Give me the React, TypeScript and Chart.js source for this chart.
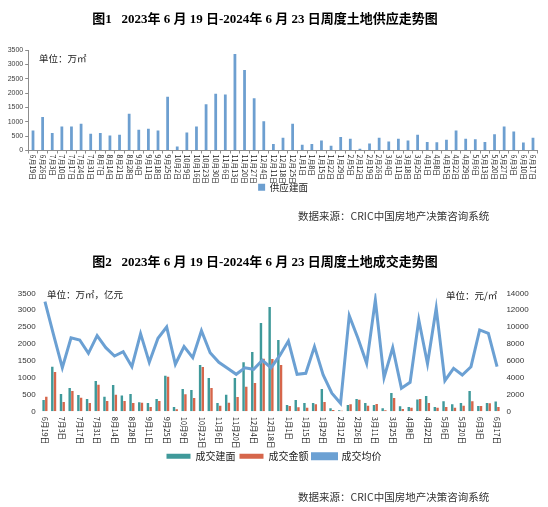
import React, { useEffect, useRef } from 'react';
import { Chart, registerables } from 'chart.js';

Chart.register(...registerables);

const weeks = [
  '6月19日', '6月26日', '7月3日', '7月10日', '7月17日', '7月24日', '7月31日', '8月7日', '8月14日', '8月21日',
  '8月28日', '9月4日', '9月11日', '9月18日', '9月25日', '10月2日', '10月9日', '10月16日', '10月23日', '10月30日',
  '11月6日', '11月13日', '11月20日', '11月27日', '12月4日', '12月11日', '12月18日', '12月25日', '1月1日', '1月8日',
  '1月15日', '1月22日', '1月29日', '2月5日', '2月12日', '2月19日', '2月26日', '3月4日', '3月11日', '3月18日',
  '3月25日', '4月1日', '4月8日', '4月15日', '4月22日', '4月29日', '5月6日', '5月13日', '5月20日', '5月27日',
  '6月3日', '6月10日', '6月17日',
];

// 图1 供应建面（万㎡）
const supplyArea = [
  700, 1170, 610, 840, 840, 930, 580, 610, 525, 550,
  1280, 720, 760, 700, 1870, 140, 630, 840, 1610, 1980,
  1950, 3360, 2800, 1820, 1015, 230, 440, 930, 200, 230,
  350, 165, 470, 410, 60, 245, 440, 315, 410, 350,
  550, 300, 290, 375, 700, 410, 395, 300, 570, 840,
  665, 280, 440,
];

// 图2 成交建面（万㎡）
const dealArea = [
  336, 1325, 514, 692, 484, 366, 900, 435, 781, 465,
  514, 267, 247, 366, 1058, 128, 662, 633, 1374, 989,
  247, 490, 989, 1458, 1760, 2620, 3090, 2116, 188, 336,
  247, 247, 662, 89, 30, 190, 366, 247, 188, 89,
  544, 148, 128, 350, 455, 128, 297, 208, 247, 603,
  158, 247, 287,
];

// 图2 成交金额（亿元）
const dealAmount = [
  435, 1167, 277, 603, 405, 247, 791, 306, 494, 306,
  247, 257, 128, 306, 1028, 60, 504, 395, 1315, 692,
  163, 250, 425, 725, 840, 1555, 1552, 1374, 158, 119,
  109, 208, 277, 40, 20, 212, 340, 168, 217, 30,
  395, 69, 109, 366, 247, 109, 128, 109, 168, 297,
  158, 237, 128,
];

// 图2 成交均价（元/㎡）
const dealPrice = [
  13000, 9050, 5170, 8730, 8460, 6880, 8970, 7550, 6560, 7070,
  5290, 9210, 5810, 8660, 10000, 5580, 7670, 6360, 9560, 6950,
  5810, 5100, 4390, 5170, 4980, 6050, 5170, 6600, 8340, 4390,
  4510, 7670, 4310, 2140, 950, 11340, 8660, 5690, 13200, 3990,
  7550, 2730, 3440, 10830, 5650, 12220, 3630, 5100, 4310, 5290,
  9650, 9250, 5290,
];

const BLUE = '#6d9fd0';
const TEAL = '#3f999a';
const ORANGE = '#d6664b';
const LINE = '#6ba0d3';
const CJK = '"Noto Sans CJK SC", sans-serif';
const NUM = '"Liberation Sans", Arial, sans-serif';

const plainNumber = (v: any) => String(v);

// draws category labels rotated 90° clockwise (top-to-bottom reading)
const rotatedLabels = {
  id: 'rotatedLabels',
  afterDraw(chart: any, _args: any, opts: any) {
    const scale = chart.scales.x;
    const labels: string[] = chart.data.labels;
    const ctx: CanvasRenderingContext2D = chart.ctx;
    ctx.save();
    ctx.font = opts.font;
    ctx.fillStyle = opts.color;
    ctx.textAlign = 'left';
    ctx.textBaseline = 'middle';
    labels.forEach((lab, i) => {
      if (i % opts.step !== 0) return;
      const x = scale.getPixelForValue(i);
      ctx.save();
      ctx.translate(x, scale.top + opts.offset);
      ctx.rotate(Math.PI / 2);
      ctx.fillText(lab, 0, 0);
      ctx.restore();
    });
    ctx.restore();
  },
};

const textBase: React.CSSProperties = {
  position: 'absolute',
  whiteSpace: 'nowrap',
  fontFamily: CJK,
  color: '#222',
};

export default function App() {
  const c1 = useRef<HTMLCanvasElement>(null);
  const c2 = useRef<HTMLCanvasElement>(null);

  useEffect(() => {
    const ch1 = new Chart(c1.current!, {
      type: 'bar',
      data: {
        labels: weeks,
        datasets: [
          {
            label: '供应建面',
            data: supplyArea,
            backgroundColor: BLUE,
            barPercentage: 0.9,
            categoryPercentage: 0.32,
          },
        ],
      },
      options: {
        responsive: false,
        animation: false,
        layout: { padding: { top: 50, right: 10.2, bottom: 30, left: 0 } },
        plugins: {
          legend: {
            position: 'bottom',
            fullSize: false,
            labels: { boxWidth: 7, boxHeight: 7, padding: 4, color: '#222', font: { size: 9.5, family: CJK } },
          },
          tooltip: { enabled: false },
          rotatedLabels: { font: `7px ${CJK}`, color: '#1a1a1a', step: 1, offset: 4 },
        } as any,
        scales: {
          x: {
            grid: { display: true, drawOnChartArea: false, drawTicks: true, tickLength: 3, color: '#8c8c8c', offset: true },
            border: { display: true, color: '#8c8c8c' },
            ticks: { display: false },
            afterFit: (s: any) => { s.height = 28; },
          },
          y: {
            min: 0,
            max: 3500,
            ticks: { stepSize: 500, color: '#404040', padding: 2, font: { size: 7, family: NUM }, callback: plainNumber },
            grid: { drawOnChartArea: false, drawTicks: true, tickLength: 3, color: '#8c8c8c' },
            border: { display: true, color: '#8c8c8c' },
            afterFit: (s: any) => { s.width = 28.2; },
          },
        },
      },
      plugins: [rotatedLabels],
    });

    const ch2 = new Chart(c2.current!, {
      type: 'bar',
      data: {
        labels: weeks,
        datasets: [
          {
            type: 'bar',
            label: '成交建面',
            data: dealArea,
            backgroundColor: TEAL,
            yAxisID: 'y',
            order: 1,
            barPercentage: 0.9,
            categoryPercentage: 0.62,
          },
          {
            type: 'bar',
            label: '成交金额',
            data: dealAmount,
            backgroundColor: ORANGE,
            yAxisID: 'y',
            order: 1,
            barPercentage: 0.9,
            categoryPercentage: 0.62,
          },
          {
            type: 'line',
            label: '成交均价',
            data: dealPrice,
            borderColor: LINE,
            backgroundColor: LINE,
            borderWidth: 3,
            pointRadius: 0,
            tension: 0,
            yAxisID: 'y1',
            order: 0,
          },
        ] as any,
      },
      options: {
        responsive: false,
        animation: false,
        layout: { padding: { top: 61.3, right: 0, bottom: 35.7, left: 0 } },
        plugins: {
          legend: {
            position: 'bottom',
            labels: {
              boxWidth: 24,
              boxHeight: 5,
              padding: 4,
              color: '#222',
              font: { size: 10, family: CJK },
              sort: (a: any, b: any) => a.datasetIndex - b.datasetIndex,
            },
          },
          tooltip: { enabled: false },
          rotatedLabels: { font: `7.5px ${CJK}`, color: '#1a1a1a', step: 2, offset: 5.5 },
        } as any,
        scales: {
          x: {
            grid: { display: false },
            border: { display: false },
            ticks: { display: false },
            afterFit: (s: any) => { s.height = 36; },
          },
          y: {
            position: 'left',
            min: 0,
            max: 3500,
            ticks: { stepSize: 500, color: '#333', padding: 5, font: { size: 8, family: NUM }, callback: plainNumber },
            grid: { display: false, drawTicks: false },
            border: { display: false },
            afterFit: (s: any) => { s.width = 40.6; },
          },
          y1: {
            position: 'right',
            min: 0,
            max: 14000,
            ticks: { stepSize: 2000, color: '#333', padding: 5, font: { size: 8, family: NUM }, callback: plainNumber },
            grid: { display: false, drawTicks: false },
            border: { display: false },
            afterFit: (s: any) => { s.width = 46.6; },
          },
        },
      },
      plugins: [rotatedLabels],
    });

    return () => {
      ch1.destroy();
      ch2.destroy();
    };
  }, []);

  const titleStyle: React.CSSProperties = {
    ...textBase,
    left: 0,
    width: 530,
    textAlign: 'center',
    fontSize: 13,
    lineHeight: '16px',
    fontWeight: 'bold',
    color: '#000',
    fontFamily: '"Liberation Serif", "Noto Sans CJK SC", serif',
  };

  return (
    <div style={{ position: 'fixed', left: 0, top: 0, width: 548, height: 507, background: '#fff', overflow: 'hidden' }}>
      <canvas ref={c1} width={548} height={232} style={{ position: 'absolute', left: 0, top: 0, width: 548, height: 232 }} />
      <canvas ref={c2} width={548} height={275} style={{ position: 'absolute', left: 0, top: 232, width: 548, height: 275 }} />

      <div style={{ ...titleStyle, top: 10.5 }}>图1&nbsp;&nbsp;&nbsp;2023年 6 月 19 日-2024年 6 月 23 日周度土地供应走势图</div>
      <div style={{ ...titleStyle, top: 254 }}>图2&nbsp;&nbsp;&nbsp;2023年 6 月 19 日-2024年 6 月 23 日周度土地成交走势图</div>

      <div style={{ ...textBase, left: 39, top: 52, fontSize: 9.5, lineHeight: '12px' }}>单位：万㎡</div>
      <div style={{ ...textBase, left: 47, top: 288, fontSize: 9.5, lineHeight: '12px' }}>单位：万㎡，亿元</div>
      <div style={{ ...textBase, left: 446, top: 289, fontSize: 9.5, lineHeight: '12px' }}>单位：元/㎡</div>

      <div style={{ ...textBase, left: 298, top: 210, fontSize: 10.5, lineHeight: '12px', color: '#333' }}>数据来源：CRIC中国房地产决策咨询系统</div>
      <div style={{ ...textBase, left: 298, top: 490.5, fontSize: 10.5, lineHeight: '12px', color: '#333' }}>数据来源：CRIC中国房地产决策咨询系统</div>
    </div>
  );
}
